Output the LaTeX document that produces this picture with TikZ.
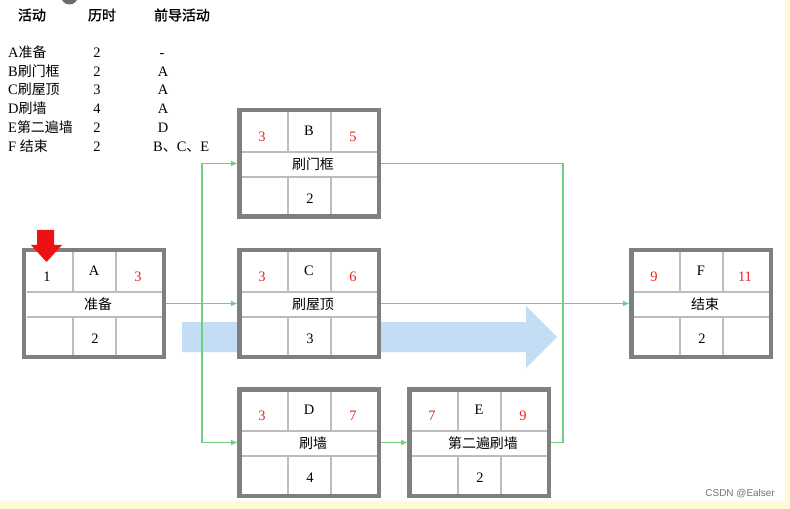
\documentclass[tikz,border=0pt]{standalone}
\usepackage{fontspec}
\setmainfont{Liberation Serif}
\setsansfont{Liberation Sans}
\newfontfamily\cjk{Noto Sans CJK SC}
\newfontfamily\cjkb[FakeBold=1.5]{Noto Sans CJK SC}
\usetikzlibrary{arrows.meta}
\definecolor{boxgray}{HTML}{7F7F7F}
\definecolor{linegray}{HTML}{BDBDBD}
\definecolor{conngreen}{HTML}{6ECF7E}
\definecolor{numred}{HTML}{E82222}
\definecolor{bigblue}{HTML}{C3DEF4}
\definecolor{bgyellow}{HTML}{FFFBD9}
\definecolor{markred}{HTML}{EE1111}
\tikzset{
  actbox/.style={draw=boxgray, line width=4.5bp, fill=white, minimum width=139.5bp, minimum height=106.5bp, inner sep=0pt},
  innerline/.style={draw=linegray, line width=1.1bp},
  conn/.style={draw=conngreen, line width=1.1bp},
  arr/.style={conn, -{Triangle[length=6bp,width=5bp]}},
  txt/.style={inner sep=0pt, font=\fontsize{14.5}{16}\selectfont},
  hdr/.style={inner sep=0pt, font=\fontsize{14}{16}\selectfont\cjkb},
}
\newcommand{\zh}[1]{{\cjk\fontsize{14}{16}\selectfont #1}}
\newcommand{\actbox}[9]{%
  \node[actbox] (#1) at ({#2+72},{#3+55.5}) {};
  \draw[innerline] ({#2+4.5},{#3+44}) -- ({#2+139.5},{#3+44});
  \draw[innerline] ({#2+4.5},{#3+69}) -- ({#2+139.5},{#3+69});
  \draw[innerline] ({#2+51},{#3+4.5}) -- ({#2+51},{#3+44});
  \draw[innerline] ({#2+94},{#3+4.5}) -- ({#2+94},{#3+44});
  \draw[innerline] ({#2+51},{#3+69}) -- ({#2+51},{#3+106.5});
  \draw[innerline] ({#2+94},{#3+69}) -- ({#2+94},{#3+106.5});
  \node[txt, text=#9] (#1l) at ({#2+25},{#3+29}) {#4};
  \node[txt] (#1m) at ({#2+72},{#3+23}) {#5};
  \node[txt, text=numred] (#1r) at ({#2+116},{#3+29}) {#6};
  \node[txt] (#1t) at ({#2+76},{#3+56}) {\zh{#7}};
  \node[txt] (#1d) at ({#2+73},{#3+91}) {#8};
}
\begin{document}
\begin{tikzpicture}[x=1bp,y=-1bp]
\useasboundingbox (0,0) rectangle (790,509);
\fill[white] (0,0) rectangle (790,509);
\fill[bgyellow] (785,0) rectangle (790,509);
\fill[bgyellow] (0,501) rectangle (790,509);
\begin{scope}
  \clip (0,0) rectangle (790,509);
  \fill[black!58] (69.5,-4) circle (8.5);
\end{scope}

% table
\node[hdr] (h1) at (32,15) {活动};
\node[hdr] (h2) at (102,15) {历时};
\node[hdr] (h3) at (182,15) {前导活动};

\node[txt, anchor=base west] (r1) at (8,58) {A\zh{准备}};
\node[txt, anchor=base west] (r2) at (8,77) {B\zh{刷门框}};
\node[txt, anchor=base west] (r3) at (8,95) {C\zh{刷屋顶}};
\node[txt, anchor=base west] (r4) at (8,114) {D\zh{刷墙}};
\node[txt, anchor=base west] (r5) at (8,133) {E\zh{第二遍墙}};
\node[txt, anchor=base west] (r6) at (8,152) {F \zh{结束}};

\node[txt, anchor=base] (d1) at (97,58) {2};
\node[txt, anchor=base] (d2) at (97,77) {2};
\node[txt, anchor=base] (d3) at (97,95) {3};
\node[txt, anchor=base] (d4) at (97,114) {4};
\node[txt, anchor=base] (d5) at (97,133) {2};
\node[txt, anchor=base] (d6) at (97,152) {2};

\node[txt, anchor=base] (p1) at (162,58) {-};
\node[txt, anchor=base] (p2) at (163,77) {A};
\node[txt, anchor=base] (p3) at (163,95) {A};
\node[txt, anchor=base] (p4) at (163,114) {A};
\node[txt, anchor=base] (p5) at (163,133) {D};
\node[txt, anchor=base west] (p6) at (153,152) {B\zh{、}C\zh{、}E};

% big blue arrow
\fill[bigblue] (182,322) -- (526,322) -- (526,306) -- (557,337) -- (526,368) -- (526,352) -- (182,352) -- cycle;

% coordinates for connectors
\coordinate (s) at (202,303.5);
\coordinate (m) at (563,303.5);

% boxes
\actbox{A}{22}{248}{1}{A}{3}{准备}{2}{black}
\actbox{B}{237}{108}{3}{B}{5}{刷门框}{2}{numred}
\actbox{C}{237}{248}{3}{C}{6}{刷屋顶}{3}{numred}
\actbox{D}{237}{387}{3}{D}{7}{刷墙}{4}{numred}
\actbox{E}{407}{387}{7}{E}{9}{第二遍刷墙}{2}{numred}
\actbox{F}{629}{248}{9}{F}{11}{结束}{2}{numred}

% connectors
\draw[arr] (A.east) -- (C.west);
\draw[arr] (s) |- (B.west);
\draw[arr] (s) |- (D.west);
\draw[arr] (C.east) -- (F.west);
\draw[arr] (D.east) -- (E.west);
\draw[conn] (B.east) -| (m) |- (E.east);

% red start marker
\fill[markred] (37,230) -- (54,230) -- (54,245) -- (62,245) -- (46.5,262) -- (31,245) -- (37,245) -- cycle;

% watermark
\node[inner sep=0pt, anchor=east, text=black!55, font=\sffamily\fontsize{10}{12}\selectfont] (wm) at (775,494) {CSDN @Ealser};
\end{tikzpicture}
\end{document}
